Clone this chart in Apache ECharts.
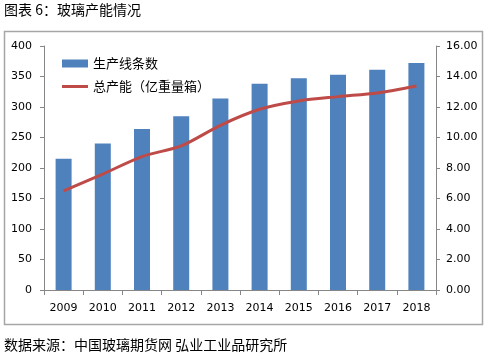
<!DOCTYPE html>
<html><head><meta charset="utf-8">
<script src="https://cdn.jsdelivr.net/npm/echarts@6/dist/echarts.min.js"></script>
<style>html,body{margin:0;padding:0;background:#fff}#c{width:490px;height:361px}</style>
</head><body><div id="c"></div>
<script>
const categories = ['2009','2010','2011','2012','2013','2014','2015','2016','2017','2018'];
const lineCount = [215, 240, 264, 285, 314, 338, 347, 353, 361, 372];
const capacity = [6.5, 7.6, 8.75, 9.45, 10.8, 11.85, 12.4, 12.68, 12.92, 13.38];
const leftTicks = {min: 0, max: 400, interval: 50};
const rightTicks = {min: 0, max: 16, interval: 2};
const names = ['生产线条数', '总产能（亿重量箱）'];

const chart = echarts.init(document.getElementById('c'));
const numFont = 'DejaVu Sans';
const cjk = '"Noto Sans CJK SC"';
const lineIcon = 'path://M0,0L0.01,0L0.01,0.01Z M0,2.5L26,2.5L26,5.5L0,5.5Z M25.99,8L26,8L26,7.99Z';
chart.setOption({
  animation: false,
  graphic: [
    {type: 'rect', shape: {x: 4.5, y: 31.5, width: 478, height: 293}, style: {fill: 'none', stroke: '#a6a6a6', lineWidth: 1.5}},
    {type: 'text', left: 4, top: 3, style: {text: '图表 6：玻璃产能情况', font: '14px ' + cjk, fill: '#000'}},
    {type: 'text', left: 4, top: 338, style: {text: '数据来源：中国玻璃期货网 弘业工业品研究所', font: '14px ' + cjk, fill: '#000'}}
  ],
  legend: {
    left: 57, top: 52, orient: 'vertical', itemGap: 10,
    itemWidth: 26, itemHeight: 8,
    textStyle: {fontFamily: cjk, fontSize: 13, color: '#000'},
    data: [{name: names[0], icon: 'rect'}, {name: names[1], icon: lineIcon}]
  },
  grid: {left: 44, right: 54, top: 46, bottom: 71},
  xAxis: {
    type: 'category', data: categories,
    axisLine: {lineStyle: {color: '#868686'}},
    axisTick: {show: true, alignWithLabel: false, length: 5, lineStyle: {color: '#868686'}},
    axisLabel: {fontFamily: numFont, fontSize: 11, color: '#000', margin: 13}
  },
  yAxis: [
    {type: 'value', min: leftTicks.min, max: leftTicks.max, interval: leftTicks.interval,
     axisLine: {show: true, lineStyle: {color: '#868686'}},
     axisTick: {show: true, length: 4, lineStyle: {color: '#868686'}},
     splitLine: {show: false},
     axisLabel: {fontFamily: numFont, fontSize: 11, color: '#000', margin: 12}},
    {type: 'value', min: rightTicks.min, max: rightTicks.max, interval: rightTicks.interval,
     axisLine: {show: true, lineStyle: {color: '#868686'}},
     axisTick: {show: true, length: 4, lineStyle: {color: '#868686'}},
     splitLine: {show: false},
     axisLabel: {fontFamily: numFont, fontSize: 11, color: '#000', margin: 10,
       formatter: v => v.toFixed(2)}}
  ],
  series: [
    {name: names[0], type: 'bar', data: lineCount, barWidth: 16,
     itemStyle: {color: '#4F81BD'}},
    {name: names[1], type: 'line', yAxisIndex: 1, data: capacity, smooth: 0.3,
     symbol: 'none', lineStyle: {color: '#BE4B48', width: 3}, itemStyle: {color: '#BE4B48'}}
  ]
});
</script></body></html>
